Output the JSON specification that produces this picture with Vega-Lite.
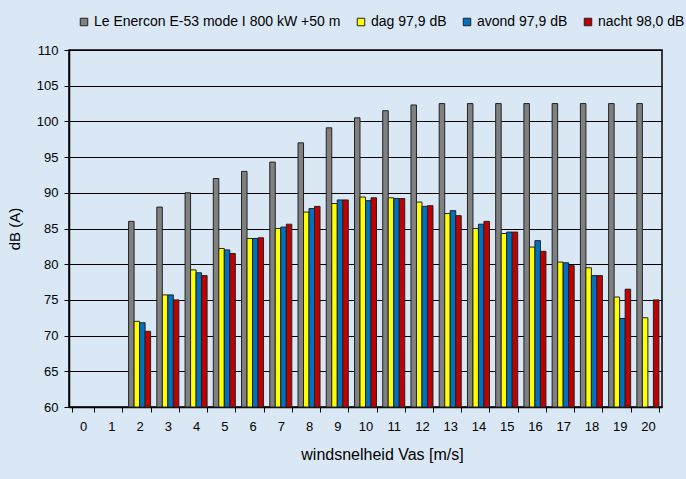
{
  "$schema": "https://vega.github.io/schema/vega-lite/v6.json",
  "width": 593,
  "height": 357,
  "autosize": {"type": "none"},
  "padding": {"left": 69, "top": 50, "right": 24, "bottom": 72},
  "background": "#dae8f6",
  "config": {
    "font": "Liberation Sans",
    "view": {"stroke": "#000000", "strokeWidth": 1.5, "fill": "#dae8f6"}
  },
  "data": {
    "values": [
      {"w": 2, "s": "E", "db": 86}, {"w": 2, "s": "dag", "db": 72.0}, {"w": 2, "s": "avond", "db": 71.8}, {"w": 2, "s": "nacht", "db": 70.6},
      {"w": 3, "s": "E", "db": 88}, {"w": 3, "s": "dag", "db": 75.7}, {"w": 3, "s": "avond", "db": 75.7}, {"w": 3, "s": "nacht", "db": 75.0},
      {"w": 4, "s": "E", "db": 90}, {"w": 4, "s": "dag", "db": 79.2}, {"w": 4, "s": "avond", "db": 78.8}, {"w": 4, "s": "nacht", "db": 78.4},
      {"w": 5, "s": "E", "db": 92}, {"w": 5, "s": "dag", "db": 82.2}, {"w": 5, "s": "avond", "db": 82.0}, {"w": 5, "s": "nacht", "db": 81.5},
      {"w": 6, "s": "E", "db": 93}, {"w": 6, "s": "dag", "db": 83.6}, {"w": 6, "s": "avond", "db": 83.6}, {"w": 6, "s": "nacht", "db": 83.7},
      {"w": 7, "s": "E", "db": 94.3}, {"w": 7, "s": "dag", "db": 85.0}, {"w": 7, "s": "avond", "db": 85.2}, {"w": 7, "s": "nacht", "db": 85.6},
      {"w": 8, "s": "E", "db": 97.0}, {"w": 8, "s": "dag", "db": 87.3}, {"w": 8, "s": "avond", "db": 87.8}, {"w": 8, "s": "nacht", "db": 88.1},
      {"w": 9, "s": "E", "db": 99.1}, {"w": 9, "s": "dag", "db": 88.5}, {"w": 9, "s": "avond", "db": 89.0}, {"w": 9, "s": "nacht", "db": 89.0},
      {"w": 10, "s": "E", "db": 100.5}, {"w": 10, "s": "dag", "db": 89.4}, {"w": 10, "s": "avond", "db": 88.9}, {"w": 10, "s": "nacht", "db": 89.3},
      {"w": 11, "s": "E", "db": 101.5}, {"w": 11, "s": "dag", "db": 89.3}, {"w": 11, "s": "avond", "db": 89.2}, {"w": 11, "s": "nacht", "db": 89.2},
      {"w": 12, "s": "E", "db": 102.3}, {"w": 12, "s": "dag", "db": 88.7}, {"w": 12, "s": "avond", "db": 88.1}, {"w": 12, "s": "nacht", "db": 88.2},
      {"w": 13, "s": "E", "db": 102.5}, {"w": 13, "s": "dag", "db": 87.1}, {"w": 13, "s": "avond", "db": 87.5}, {"w": 13, "s": "nacht", "db": 86.8},
      {"w": 14, "s": "E", "db": 102.5}, {"w": 14, "s": "dag", "db": 85.0}, {"w": 14, "s": "avond", "db": 85.6}, {"w": 14, "s": "nacht", "db": 86.0},
      {"w": 15, "s": "E", "db": 102.5}, {"w": 15, "s": "dag", "db": 84.3}, {"w": 15, "s": "avond", "db": 84.5}, {"w": 15, "s": "nacht", "db": 84.5},
      {"w": 16, "s": "E", "db": 102.5}, {"w": 16, "s": "dag", "db": 82.4}, {"w": 16, "s": "avond", "db": 83.3}, {"w": 16, "s": "nacht", "db": 81.8},
      {"w": 17, "s": "E", "db": 102.5}, {"w": 17, "s": "dag", "db": 80.3}, {"w": 17, "s": "avond", "db": 80.2}, {"w": 17, "s": "nacht", "db": 79.8},
      {"w": 18, "s": "E", "db": 102.5}, {"w": 18, "s": "dag", "db": 79.5}, {"w": 18, "s": "avond", "db": 78.4}, {"w": 18, "s": "nacht", "db": 78.4},
      {"w": 19, "s": "E", "db": 102.5}, {"w": 19, "s": "dag", "db": 75.4}, {"w": 19, "s": "avond", "db": 72.4}, {"w": 19, "s": "nacht", "db": 76.5},
      {"w": 20, "s": "E", "db": 102.5}, {"w": 20, "s": "dag", "db": 72.5}, {"w": 20, "s": "nacht", "db": 75.0}
    ]
  },
  "mark": {"type": "bar", "stroke": "#222222", "strokeWidth": 1},
  "encoding": {
    "x": {
      "field": "w",
      "type": "ordinal",
      "scale": {"domain": [0,1,2,3,4,5,6,7,8,9,10,11,12,13,14,15,16,17,18,19,20], "paddingInner": 0.22, "paddingOuter": 0.11},
      "axis": {
        "title": "windsnelheid Vas [m/s]",
        "titleFontSize": 16,
        "titleFontWeight": "normal",
        "titleColor": "#000000",
        "titlePadding": 13,
        "titleX": 313,
        "labelAngle": 0,
        "labelFontSize": 13,
        "labelColor": "#000000",
        "labelPadding": 8,
        "tickBand": "extent",
        "tickColor": "#000000",
        "tickSize": 5,
        "domainColor": "#000000",
        "domainWidth": 1.5,
        "grid": false
      }
    },
    "xOffset": {
      "field": "s",
      "type": "nominal",
      "scale": {"domain": ["E", "dag", "avond", "nacht"], "paddingInner": 0, "paddingOuter": 0}
    },
    "y": {
      "field": "db",
      "type": "quantitative",
      "scale": {"domain": [60, 110], "zero": false, "nice": false},
      "axis": {
        "title": "dB (A)",
        "titleFontSize": 15,
        "titleFontWeight": "normal",
        "titleColor": "#000000",
        "titlePadding": 14,
        "values": [60,65,70,75,80,85,90,95,100,105,110],
        "labelFontSize": 13,
        "labelColor": "#000000",
        "labelPadding": 6,
        "tickColor": "#000000",
        "tickSize": 5,
        "domainColor": "#000000",
        "domainWidth": 1.5,
        "grid": true,
        "gridColor": "#000000",
        "gridWidth": 1,
        "gridOpacity": 1
      }
    },
    "y2": {"datum": 60},
    "color": {
      "field": "s",
      "type": "nominal",
      "scale": {"domain": ["E", "dag", "avond", "nacht"], "range": ["#808080", "#ffff00", "#0070c0", "#c00000"]},
      "legend": {
        "title": null,
        "orient": "none",
        "legendX": 8,
        "legendY": -35,
        "direction": "horizontal",
        "padding": 0,
        "symbolType": "square",
        "symbolSize": 56,
        "symbolStrokeColor": "#222222",
        "symbolStrokeWidth": 1,
        "labelFontSize": 14,
        "labelColor": "#000000",
        "labelOffset": 3,
        "columnPadding": 13,
        "labelLimit": 400,
        "labelExpr": "datum.value == 'E' ? 'Le Enercon E-53 mode I 800 kW +50 m' : datum.value == 'dag' ? 'dag 97,9 dB' : datum.value == 'avond' ? 'avond 97,9 dB' : 'nacht 98,0 dB'"
      }
    }
  }
}
